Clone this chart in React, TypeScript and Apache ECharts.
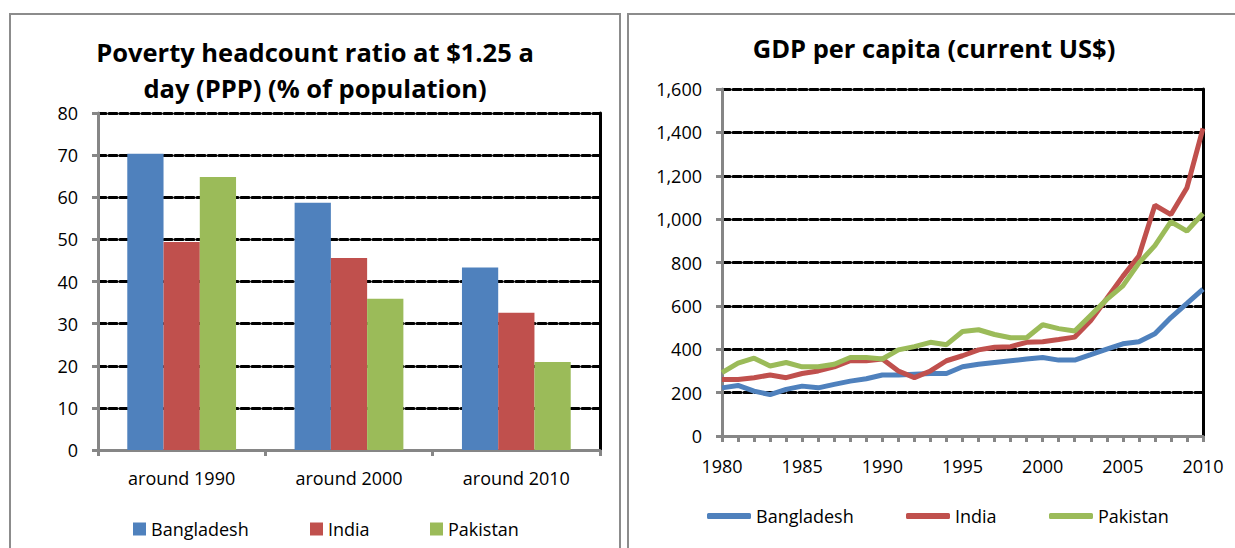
import React, { useEffect, useRef } from "react";
import * as echarts from "echarts";

const categories = ["around 1990", "around 2000", "around 2010"];
const povBangladesh = [70.3, 58.7, 43.3];
const povIndia = [49.4, 45.6, 32.6];
const povPakistan = [64.8, 35.9, 20.9];

const years = [
  "1980", "1981", "1982", "1983", "1984", "1985", "1986", "1987", "1988", "1989",
  "1990", "1991", "1992", "1993", "1994", "1995", "1996", "1997", "1998", "1999",
  "2000", "2001", "2002", "2003", "2004", "2005", "2006", "2007", "2008", "2009", "2010",
];
const gdpBangladesh = [
  222, 233, 207, 191, 215, 230, 222, 238, 253, 264,
  281, 281, 285, 288, 288, 319, 331, 339, 347, 355,
  362, 350, 350, 375, 401, 425, 435, 471, 546, 611, 677,
];
const gdpIndia = [
  261, 261, 269, 281, 269, 288, 300, 319, 347, 347,
  355, 300, 269, 300, 347, 370, 397, 409, 412, 432,
  435, 445, 456, 533, 634, 736, 830, 1064, 1021, 1145, 1418,
];
const gdpPakistan = [
  292, 336, 359, 323, 339, 319, 319, 331, 362, 362,
  355, 397, 412, 432, 421, 482, 490, 468, 453, 453,
  513, 495, 484, 557, 630, 692, 797, 878, 988, 945, 1026,
];

const seriesNames = ["Bangladesh", "India", "Pakistan"];
const colors = ["#4F81BD", "#C0504D", "#9BBB59"];

const FONT = "'Open Sans', Lato, sans-serif";

export default function App() {
  const ref = useRef<HTMLDivElement>(null);
  useEffect(() => {
    if (!ref.current) return;
    const chart = echarts.init(ref.current, undefined, { renderer: "svg" });
    const gridLine = {
      show: true,
      lineStyle: { color: "#000", width: 3, type: [8, 3] as any, cap: "round" },
    };
    const grayAxis = { show: true, lineStyle: { color: "#868686", width: 3 } };
    const tick = { show: true, length: 6, lineStyle: { color: "#868686", width: 3 } };
    const labelStyle = { color: "#000", fontFamily: FONT, fontSize: 18 };
    const barData = [povBangladesh, povIndia, povPakistan];
    const lineData = [gdpBangladesh, gdpIndia, gdpPakistan];
    const legendLeftX = [128, 305, 425];
    const legendRightX = [702, 901, 1044];

    const option: any = {
      animation: false,
      backgroundColor: "#fff",
      textStyle: { fontFamily: FONT },
      grid: [
        { left: 98, top: 113, width: 502, height: 337 },
        { left: 722, top: 89, width: 481, height: 347 },
      ],
      xAxis: [
        {
          type: "category",
          gridIndex: 0,
          data: categories,
          axisLine: grayAxis,
          axisTick: tick,
          axisLabel: { ...labelStyle, margin: 19 },
        },
        {
          type: "category",
          gridIndex: 1,
          data: years,
          boundaryGap: false,
          axisLine: grayAxis,
          axisTick: { ...tick, interval: 0 },
          axisLabel: { ...labelStyle, interval: 4, margin: 21 },
        },
      ],
      yAxis: [
        {
          type: "value",
          gridIndex: 0,
          min: 0,
          max: 80,
          interval: 10,
          axisLine: grayAxis,
          axisTick: tick,
          axisLabel: { ...labelStyle, margin: 20 },
          splitLine: gridLine,
        },
        {
          type: "value",
          gridIndex: 0,
          position: "right",
          min: 0,
          max: 80,
          interval: 10,
          axisLine: { show: true, lineStyle: { color: "#000", width: 3, type: "solid" } },
          axisTick: { show: false },
          axisLabel: { show: false },
          splitLine: { show: false },
        },
        {
          type: "value",
          gridIndex: 1,
          min: 0,
          max: 1600,
          interval: 200,
          axisLine: grayAxis,
          axisTick: tick,
          axisLabel: {
            ...labelStyle,
            margin: 20,
            formatter: (v: number) => v.toLocaleString("en-US"),
          },
          splitLine: gridLine,
        },
        {
          type: "value",
          gridIndex: 1,
          position: "right",
          min: 0,
          max: 1600,
          interval: 200,
          axisLine: { show: true, lineStyle: { color: "#000", width: 3, type: "solid" } },
          axisTick: { show: false },
          axisLabel: { show: false },
          splitLine: { show: false },
        },
      ],
      legend: [
        ...seriesNames.map((n, i) => ({
          data: [{ name: n, itemStyle: { color: colors[i] } }],
          left: legendLeftX[i],
          top: 515,
          icon: "rect",
          itemWidth: 13,
          itemHeight: 13,
          itemGap: 0,
          selectedMode: false,
          textStyle: { ...labelStyle, padding: [0, 0, 0, 0] },
        })),
      ],
      series: [
        ...seriesNames.map((n, i) => ({
          type: "bar",
          name: n,
          xAxisIndex: 0,
          yAxisIndex: 0,
          data: barData[i],
          barGap: "0%",
          barCategoryGap: "35%",
          itemStyle: { color: colors[i] },
        })),
        ...seriesNames.map((n, i) => ({
          type: "line",
          name: n + " ",
          xAxisIndex: 1,
          yAxisIndex: 2,
          data: lineData[i],
          showSymbol: false,
          symbol: "none",
          lineStyle: { color: colors[i], width: 5 },
          itemStyle: { color: colors[i] },
        })),
      ],
      graphic: [
        {
          type: "rect",
          shape: { x: 10, y: 14, width: 610, height: 560 },
          style: { fill: "none", stroke: "#8c8c8c", lineWidth: 2 },
          z: 0,
        },
        {
          type: "rect",
          shape: { x: 628, y: 14, width: 620, height: 560 },
          style: { fill: "none", stroke: "#8c8c8c", lineWidth: 2 },
          z: 0,
        },
        {
          type: "text",
          x: 315,
          y: 52,
          style: {
            text: "Poverty headcount ratio at $1.25 a",
            textAlign: "center",
            textVerticalAlign: "middle",
            fill: "#000",
            font: `bold 25.5px ${FONT}`,
          },
        },
        {
          type: "text",
          x: 315,
          y: 88,
          style: {
            text: "day (PPP) (% of population)",
            textAlign: "center",
            textVerticalAlign: "middle",
            fill: "#000",
            font: `bold 25.5px ${FONT}`,
          },
        },
        {
          type: "text",
          x: 934,
          y: 48,
          style: {
            text: "GDP per capita (current US$)",
            textAlign: "center",
            textVerticalAlign: "middle",
            fill: "#000",
            font: `bold 25.5px ${FONT}`,
          },
        },
      ],
    };
    seriesNames.forEach((n, i) => {
      option.legend.push({
        data: [{ name: n + " ", itemStyle: { color: colors[i] } }],
        left: legendRightX[i],
        top: 502,
        icon: "roundRect",
        itemWidth: 44,
        itemHeight: 6,
        itemGap: 0,
        selectedMode: false,
        textStyle: { ...labelStyle, padding: [0, 0, 0, 0] },
      });
    });
    chart.setOption(option);
    return () => chart.dispose();
  }, []);
  return (
    <div
      ref={ref}
      style={{ position: "fixed", left: 0, top: 0, width: 1235, height: 548 }}
    />
  );
}
